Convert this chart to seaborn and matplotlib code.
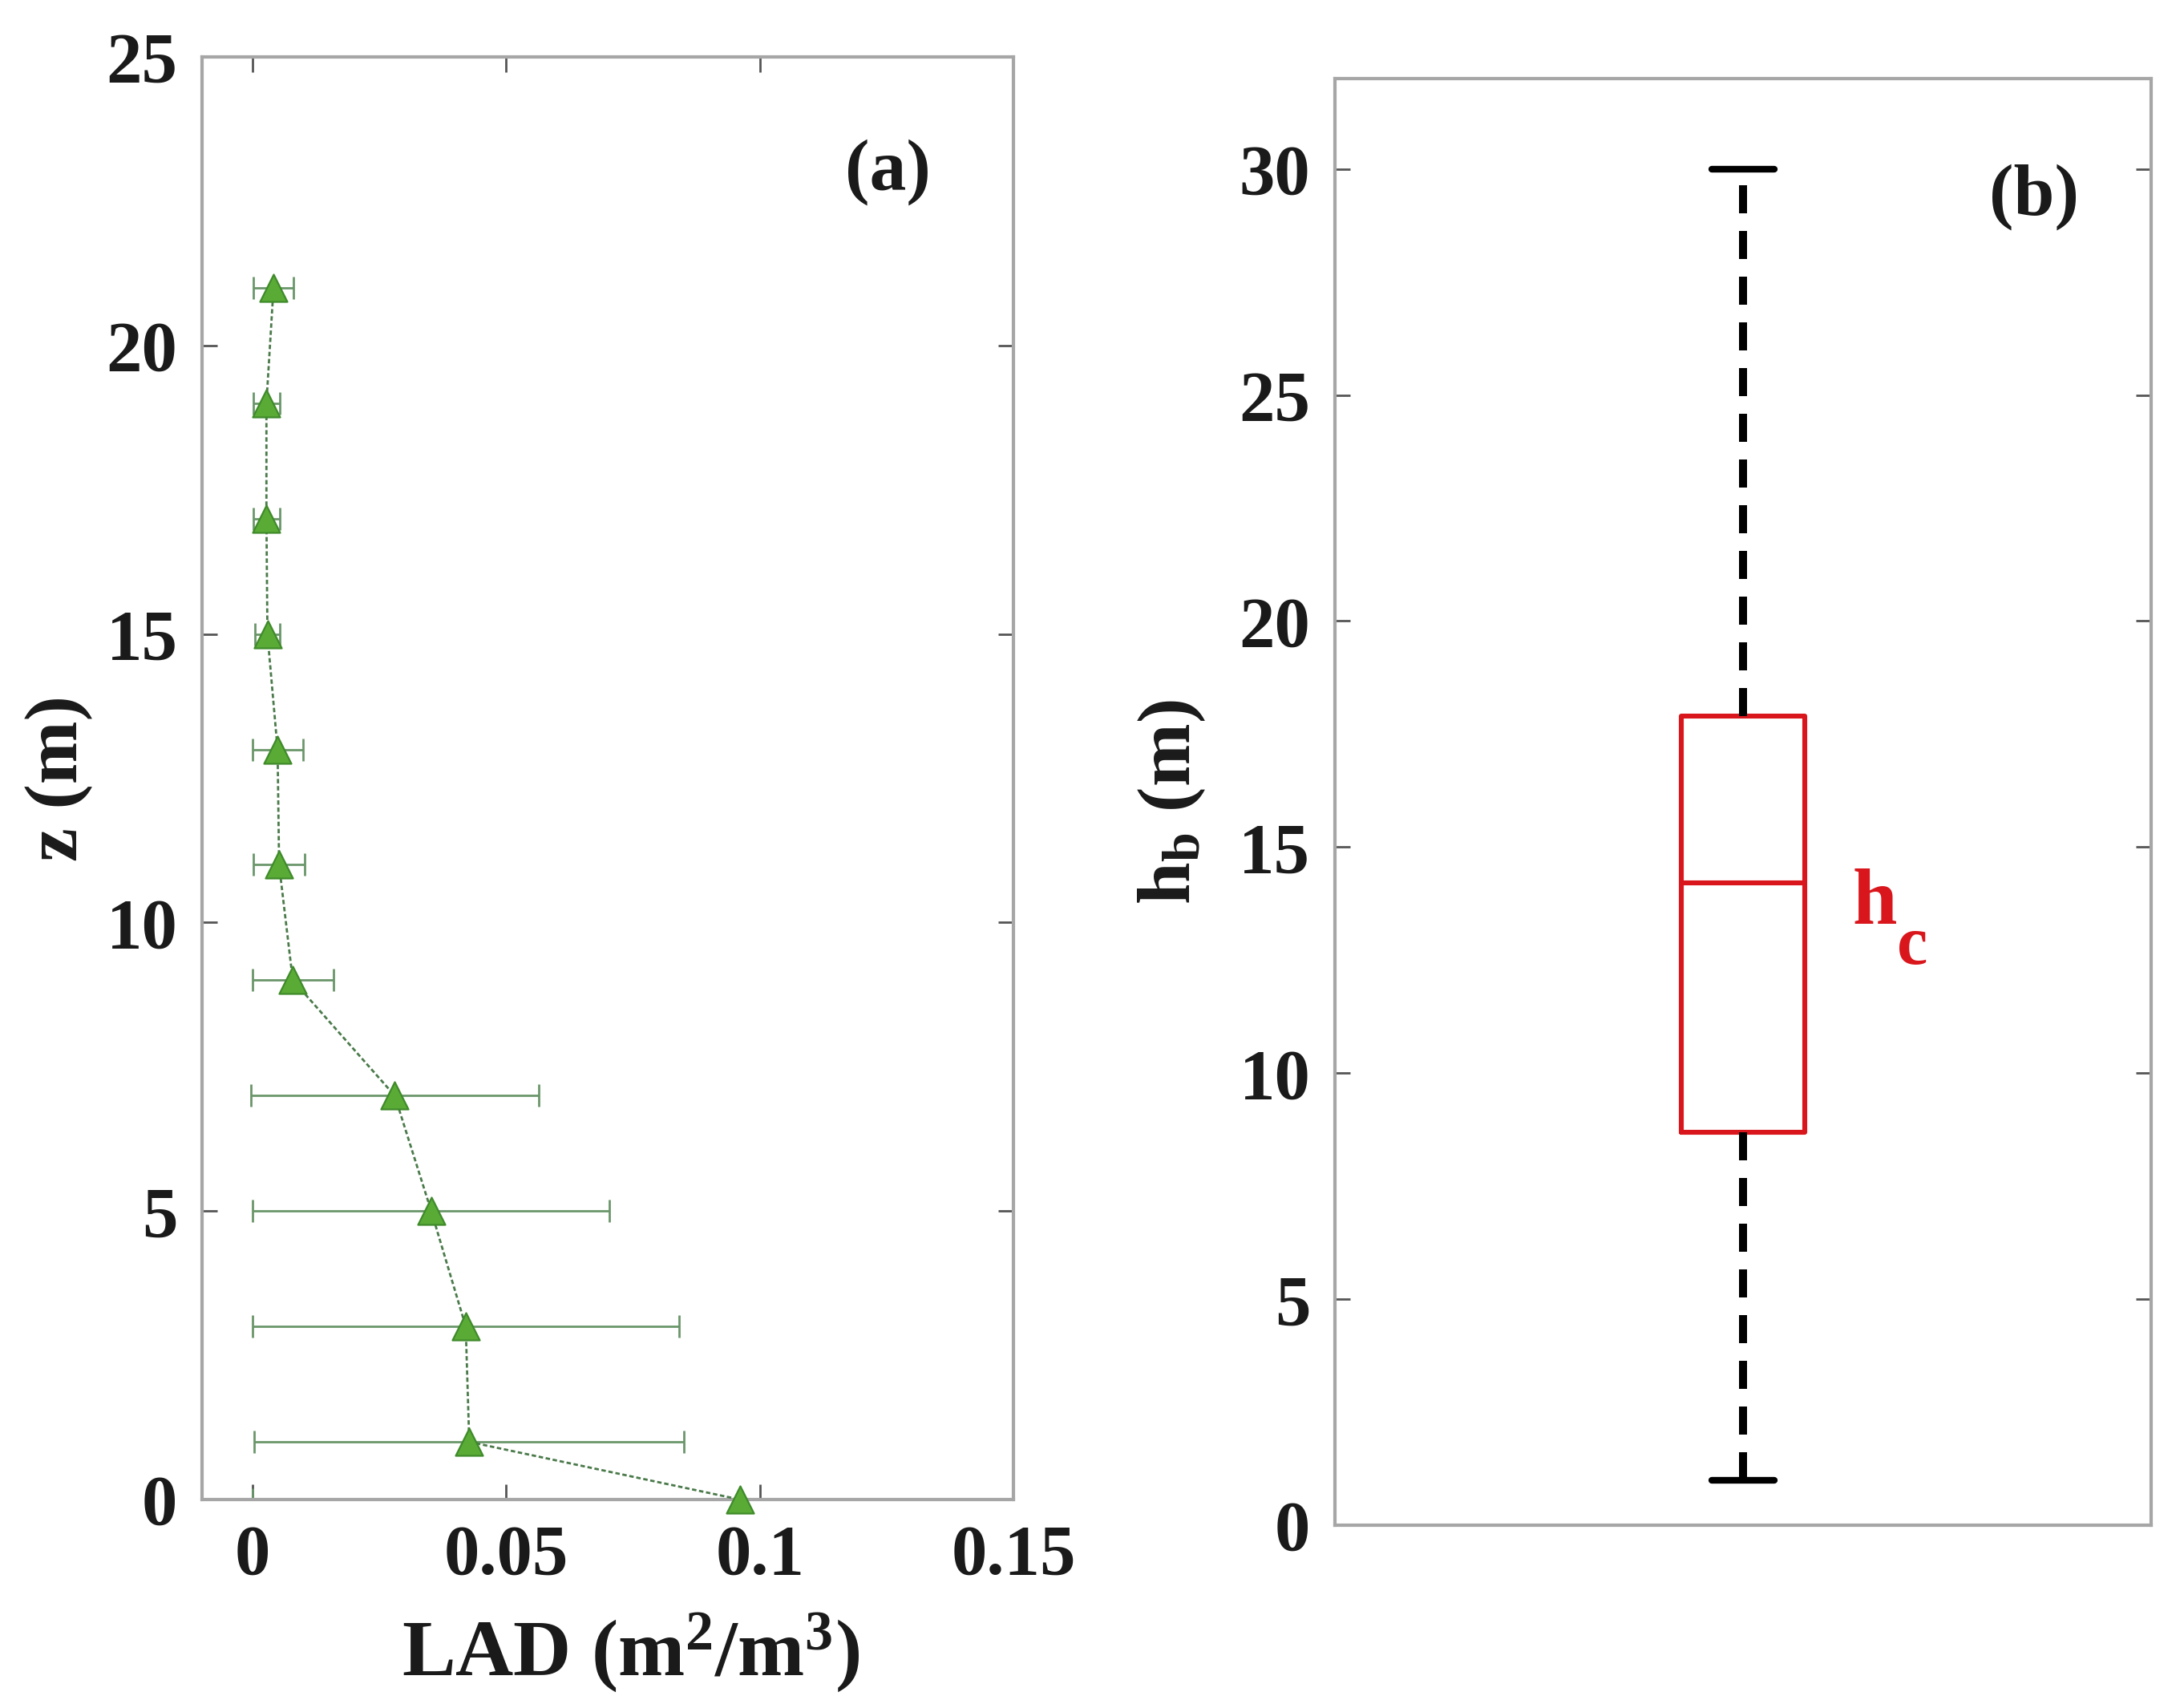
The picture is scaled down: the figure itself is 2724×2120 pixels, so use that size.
import matplotlib
matplotlib.use("Agg")
import numpy as np
import pandas as pd
import matplotlib.pyplot as plt
import matplotlib.transforms as mtransforms
import seaborn as sns

# (a) LAD 垂直廓线
z = [21, 19, 17, 15, 13, 11, 9, 7, 5, 3, 1, 0]
lad = [0.0041, 0.0027, 0.0027, 0.0029, 0.0049, 0.0052, 0.0079, 0.0280, 0.0352, 0.0420, 0.0427, 0.0961]
lad_err = [0.0039, 0.0026, 0.0026, 0.0025, 0.0050, 0.0051, 0.0080, 0.0284, 0.0352, 0.0420, 0.0424, 0.0961]
x_ticks = [0, 0.05, 0.1, 0.15]
x_ticklabels = ["0", "0.05", "0.1", "0.15"]

# (b) hb 箱线图 (min, q1, median, q3, max)
hb = [1.0, 8.7, 14.2, 17.9, 30.0]

GREEN = "#5aab36"
RED = "#d9161c"
DARK = "#1a1a1a"

sns.set_style("ticks")
plt.rcParams["font.family"] = ["Liberation Serif", "DejaVu Serif"]
plt.rcParams["font.weight"] = "bold"
plt.rcParams["axes.labelweight"] = "bold"
plt.rcParams["axes.labelcolor"] = DARK
plt.rcParams["mathtext.fontset"] = "custom"
plt.rcParams["mathtext.rm"] = "Liberation Serif:bold"
plt.rcParams["mathtext.bf"] = "Liberation Serif:bold"
plt.rcParams["mathtext.it"] = "Liberation Serif:bold"
plt.rcParams["text.color"] = DARK

fig = plt.figure(figsize=(13.62, 10.6), dpi=200)
ax1 = fig.add_axes([0.0925, 0.1179, 0.3715, 0.8486])
ax2 = fig.add_axes([0.6112, 0.1028, 0.3737, 0.851])

# ---- (a) ----
df_a = pd.DataFrame({"z": z, "lad": lad, "err": lad_err})
ax1.errorbar(df_a["lad"], df_a["z"], xerr=df_a["err"], fmt="none",
             ecolor="#6a966a", elinewidth=1.0, capsize=5, capthick=1.0, zorder=2)
sns.lineplot(data=df_a, x="lad", y="z", sort=False, estimator=None, ax=ax1,
             color="#4a7a4a", lw=1.0, linestyle=(0, (2, 1.2)), zorder=3)
sns.scatterplot(data=df_a, x="lad", y="z", marker="^", s=150, color=GREEN,
                edgecolor="#3f8a2a", linewidth=0.8, ax=ax1, zorder=4,
                clip_on=False)
ax1.set_xlim(-0.01, 0.15)
ax1.set_ylim(0, 25)
ax1.set_xticks(x_ticks)
ax1.set_xticklabels(x_ticklabels)
ax1.set_yticks(range(0, 26, 5))
ax1.set_xlabel(r"LAD (m$^{\mathbf{2}}$/m$^{\mathbf{3}}$)", fontsize=36,
               fontweight="bold", labelpad=10)
ax1.xaxis.label.set_x(0.528)
ax1.set_ylabel("z (m)", fontsize=34, fontweight="bold", labelpad=6)
ax1.text(0.845, 0.920, "(a)", transform=ax1.transAxes, ha="center", va="center",
         fontsize=33, fontweight="bold")

# ---- (b) ----
sns.boxplot(y=hb, ax=ax2, fill=False, color=RED, saturation=1, width=0.152,
            whis=(0, 100), linewidth=2.2,
            whiskerprops={"color": "black", "linestyle": (0, (3.5, 2.2)), "linewidth": 3.6},
            capprops={"color": "black", "linewidth": 3},
            medianprops={"color": RED, "linewidth": 2.2},
            boxprops={"color": RED, "linewidth": 2.2})
ax2.set_xlim(-0.5, 0.5)
ax2.set_ylim(0, 32)
ax2.set_xticks([])
ax2.set_yticks(range(0, 31, 5))
ax2.set_ylabel(r"$\mathbf{h_b}$ (m)", fontsize=34, fontweight="bold", labelpad=14)
ax2.text(0.857, 0.918, "(b)", transform=ax2.transAxes, ha="center", va="center",
         fontsize=33, fontweight="bold")
trans = mtransforms.blended_transform_factory(ax2.transAxes, ax2.transData)
ax2.text(0.634, 13.3, "h", transform=trans, color=RED,
         fontsize=36, fontweight="bold", ha="left", va="baseline")
ax2.annotate("c", xy=(0.634, 13.3), xycoords=trans, xytext=(20, -18),
             textcoords="offset points", color=RED, fontsize=31,
             fontweight="bold", ha="left", va="baseline")

for ax in (ax1, ax2):
    for sp in ax.spines.values():
        sp.set_visible(True)
        sp.set_color("#a6a6a6")
        sp.set_linewidth(1.5)
    ax.tick_params(axis="both", direction="in", length=7, width=1.0,
                   color="#555555", labelsize=32, labelcolor=DARK, pad=11)
ax1.tick_params(top=True, right=True)
ax2.tick_params(axis="y", left=True, right=True)

fig.savefig("out.png", dpi=200, facecolor="white")
